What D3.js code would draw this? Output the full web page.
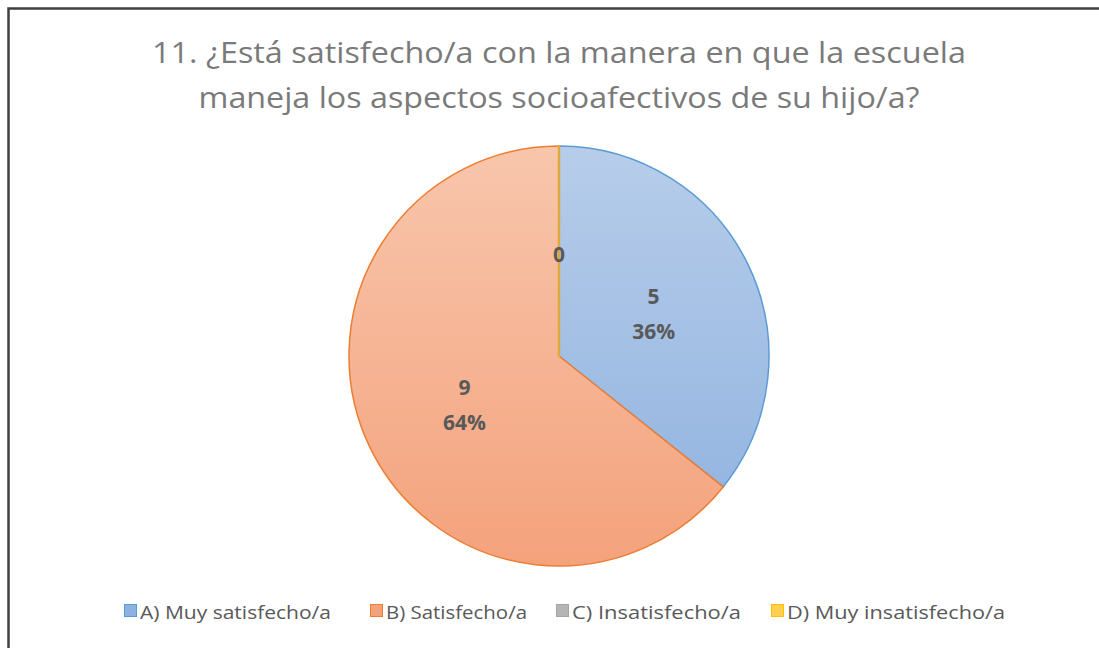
<!DOCTYPE html>
<html>
<head>
<meta charset="utf-8">
<script src="https://cdn.jsdelivr.net/npm/d3@7"></script>
<style>
  body { margin: 0; background: #fff; }
  svg { display: block; }
</style>
</head>
<body>
<div id="chart"></div>
<script>
// pregunta 11
const titleLines = ["11. ¿Está satisfecho/a con la manera en que la escuela", "maneja los aspectos socioafectivos de su hijo/a?"];
const categories = ["A) Muy satisfecho/a", "B) Satisfecho/a", "C) Insatisfecho/a", "D) Muy insatisfecho/a"];
const values = [5, 9, 0, 0];
const strokeColors = ["#5b9bd5", "#ed7d31", "#a5a5a5", "#ffc000"];
const fillTop = ["#b7cdea", "#f8c6ac", "#d0d0d0", "#ffe08a"];
const fillBottom = ["#8eb1df", "#f4a27c", "#b5b5b5", "#ffcf4d"];

const W = 1099, H = 648;
const cx = 559, cy = 356, r = 210;

const svg = d3.select("#chart").append("svg")
  .attr("width", W)
  .attr("height", H);

// marco del grafico (solo arriba e izquierda se ven)
svg.append("rect")
  .attr("x", 8.5).attr("y", 8.5)
  .attr("width", W + 20).attr("height", H + 20)
  .attr("fill", "#fff")
  .attr("stroke", "#404040")
  .attr("stroke-width", 2.5);

const defs = svg.append("defs");
categories.forEach((c, i) => {
  let g = defs.append("linearGradient")
    .attr("id", "grad" + i)
    .attr("gradientUnits", "userSpaceOnUse")
    .attr("x1", 0).attr("y1", -r).attr("x2", 0).attr("y2", r);
  g.append("stop").attr("offset", "0%").attr("stop-color", fillTop[i]);
  g.append("stop").attr("offset", "100%").attr("stop-color", fillBottom[i]);
});

const titleW = [814, 721];
svg.selectAll("text.title")
  .data(titleLines)
  .enter()
  .append("text")
  .attr("class", "title")
  .attr("x", cx)
  .attr("y", (d, i) => 63 + i * 45)
  .attr("text-anchor", "middle")
  .attr("textLength", (d, i) => titleW[i])
  .attr("lengthAdjust", "spacingAndGlyphs")
  .style("font-family", "'Open Sans', sans-serif")
  .style("font-size", "30px")
  .style("fill", "#7a7a7a")
  .text(d => d);

const total = d3.sum(values);
const pie = d3.pie().sort(null).value(d => d);
const arcs = pie(values);
const arc = d3.arc().innerRadius(0).outerRadius(r);

const g = svg.append("g").attr("transform", "translate(" + cx + "," + cy + ")");

g.selectAll("path")
  .data(arcs)
  .enter()
  .append("path")
  .attr("d", arc)
  .attr("fill", (d, i) => "url(#grad" + i + ")")
  .attr("stroke", (d, i) => strokeColors[i])
  .attr("stroke-width", 1.5)
  .attr("stroke-linejoin", "round");

// linea de las porciones en cero (se ve dorada arriba)
g.append("line")
  .attr("x1", 0).attr("y1", 0)
  .attr("x2", 0).attr("y2", -r)
  .attr("stroke", "#dcaa3c")
  .attr("stroke-width", 2.5);

// etiquetas
const labelArc = d3.arc().innerRadius(r * 0.5).outerRadius(r * 0.5);
const labelStyle = sel => sel
  .attr("text-anchor", "middle")
  .style("font-family", "'Open Sans', sans-serif")
  .style("font-weight", "bold")
  .style("font-size", "21px")
  .style("fill", "#595959");

arcs.forEach((d, i) => {
  if (d.value > 0) {
    let p = labelArc.centroid(d);
    let t = g.append("text").call(labelStyle)
      .attr("x", p[0]).attr("y", p[1]);
    t.append("tspan").attr("x", p[0]).attr("dy", "-0.33em").text(d.value);
    t.append("tspan").attr("x", p[0]).attr("dy", "1.7em").text(Math.round(d.value / total * 100) + "%");
  }
});
// el 0 va solo, una vez, cerca del borde superior
g.append("text").call(labelStyle)
  .attr("x", 0).attr("y", -r * 0.45)
  .text(values[2]);

// leyenda
const legendX = [124, 370, 556, 771];
const legendW = [191, 141, 169, 218];
const leg = svg.selectAll("g.legend")
  .data(categories)
  .enter()
  .append("g")
  .attr("class", "legend")
  .attr("transform", (d, i) => "translate(" + legendX[i] + ",619)");

leg.append("rect")
  .attr("x", 0.5).attr("y", -14.5)
  .attr("width", 12).attr("height", 12)
  .attr("fill", (d, i) => fillBottom[i])
  .attr("stroke", (d, i) => strokeColors[i]);

leg.append("text")
  .attr("x", 16)
  .attr("y", 0)
  .attr("textLength", (d, i) => legendW[i])
  .attr("lengthAdjust", "spacingAndGlyphs")
  .style("font-family", "'Open Sans', sans-serif")
  .style("font-size", "18px")
  .style("fill", "#595959")
  .text(d => d);
</script>
</body>
</html>
